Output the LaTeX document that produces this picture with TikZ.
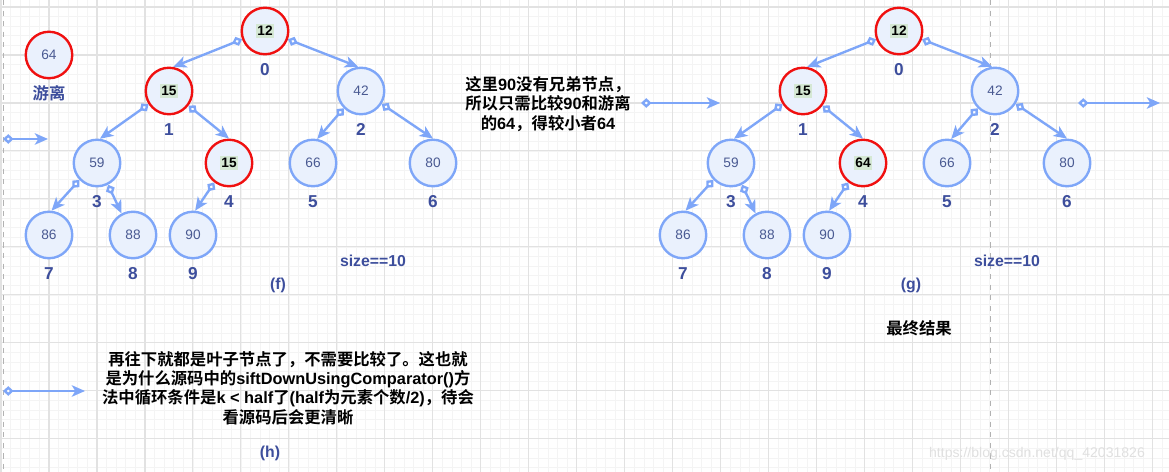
\documentclass[tikz,border=0pt]{standalone}
\usepackage{fontspec}
\setmainfont{Liberation Sans}
\newfontfamily\cjk{Noto Sans CJK SC}[BoldFont={Noto Sans CJK SC Bold}]
\usepackage{xcolor}
\usetikzlibrary{arrows.meta, positioning, backgrounds}

\definecolor{nodefill}{HTML}{EAF1FD}
\definecolor{nodeline}{HTML}{7EA6F8}
\definecolor{hotline}{HTML}{F01010}
\definecolor{numcol}{HTML}{4A5A92}
\definecolor{idxcol}{HTML}{3D4E9C}
\definecolor{hlgreen}{HTML}{D5E8D4}
\definecolor{gridmajor}{HTML}{E2E2E2}
\definecolor{gridminor}{HTML}{F4F4F4}

\newcommand{\hl}[1]{{\setlength{\fboxsep}{1pt}\colorbox{hlgreen}{\textbf{#1}}}}
\newcommand{\lat}[1]{{\normalfont\bfseries #1}}

\begin{document}
\begin{tikzpicture}[
    x=0.02cm, y=-0.02cm,
    heapnode/.style={circle, draw=nodeline, fill=nodefill, line width=1.35pt,
                     minimum size=0.93cm, inner sep=0pt, font=\fontsize{7.8}{9}\selectfont,
                     text=numcol},
    hotnode/.style={heapnode, draw=hotline, text=black},
    idx/.style={inner sep=0pt, font=\fontsize{9.8}{11}\selectfont\bfseries, text=idxcol},
    note/.style={align=center, inner sep=0pt, font=\cjk\bfseries\fontsize{9.3}{11}\selectfont},
    edge/.style={draw=nodeline, line width=1.35pt,
                 {Diamond[length=6pt, width=5.5pt, fill=white]}-{Stealth[length=7.5pt, width=6.5pt, inset=2pt]}},
    tag/.style={inner sep=0pt, font=\fontsize{9}{10}\selectfont\bfseries, text=idxcol}
]
\useasboundingbox (0,0) rectangle (1169,472);
\fill[white] (0,0) rectangle (1169,472);

% background grid
\begin{scope}[shift={(1,7)}]
\draw[gridminor, line width=0.5pt, step=0.192cm] (-1,-7) grid (1168,465);
\draw[gridmajor, line width=0.6pt, step=0.96cm] (-1,-7) grid (1168,465);
\end{scope}
\draw[gray!60, dashed, line width=0.5pt] (3,0) -- (3,472);
\draw[gray!60, dashed, line width=0.5pt] (990,0) -- (990,472);

% element taken out
\node[hotnode, text=numcol] (fl) at (49,55) {64};
\node[idx, below=3.5pt of fl, font=\cjk\bfseries\fontsize{9.3}{10}\selectfont] (flname) {游离};

% heap (f)
\node[hotnode] (f0) at (265,31) {\hl{12}};
\node[hotnode] (f1) at (169,91) {\hl{15}};
\node[heapnode] (f2) at (361,91) {42};
\node[heapnode] (f3) at (97,163) {59};
\node[hotnode] (f4) at (229,163) {\hl{15}};
\node[heapnode] (f5) at (313,163) {66};
\node[heapnode] (f6) at (433,163) {80};
\node[heapnode] (f7) at (49,235) {86};
\node[heapnode] (f8) at (133,235) {88};
\node[heapnode] (f9) at (193,235) {90};

\node[idx, below=4.5pt of f0] (fi0) {0};
\node[idx, below=4.5pt of f1] (fi1) {1};
\node[idx, below=4.5pt of f2] (fi2) {2};
\node[idx, below=4.5pt of f3] (fi3) {3};
\node[idx, below=4.5pt of f4] (fi4) {4};
\node[idx, below=4.5pt of f5] (fi5) {5};
\node[idx, below=4.5pt of f6] (fi6) {6};
\node[idx, below=4.5pt of f7] (fi7) {7};
\node[idx, below=4.5pt of f8] (fi8) {8};
\node[idx, below=4.5pt of f9] (fi9) {9};

\draw[edge] (f0.200) -- (f1.80);
\draw[edge] (f0.340) -- (f2.97);
\draw[edge] (f1.213) -- (f3.83);
\draw[edge] (f1.323) -- (f4.north);
\draw[edge] (f2.225) -- (f5.80);
\draw[edge] (f2.328) -- (f6.north);
\draw[edge] (f3.224) -- (f7.84);
\draw[edge] (f3.297) -- (f8.118);
\draw[edge] (f4.233) -- (f9.85);

\node[tag] (fsize) at (373,261) {size==10};
\node[tag] (fcap) at (278,285) {(f)};

% heap (g)
\begin{scope}[xshift=634*0.02cm]
\node[hotnode] (g0) at (265,31) {\hl{12}};
\node[hotnode] (g1) at (169,91) {\hl{15}};
\node[heapnode] (g2) at (361,91) {42};
\node[heapnode] (g3) at (97,163) {59};
\node[hotnode] (g4) at (229,163) {\hl{64}};
\node[heapnode] (g5) at (313,163) {66};
\node[heapnode] (g6) at (433,163) {80};
\node[heapnode] (g7) at (49,235) {86};
\node[heapnode] (g8) at (133,235) {88};
\node[heapnode] (g9) at (193,235) {90};

\node[idx, below=4.5pt of g0] (gi0) {0};
\node[idx, below=4.5pt of g1] (gi1) {1};
\node[idx, below=4.5pt of g2] (gi2) {2};
\node[idx, below=4.5pt of g3] (gi3) {3};
\node[idx, below=4.5pt of g4] (gi4) {4};
\node[idx, below=4.5pt of g5] (gi5) {5};
\node[idx, below=4.5pt of g6] (gi6) {6};
\node[idx, below=4.5pt of g7] (gi7) {7};
\node[idx, below=4.5pt of g8] (gi8) {8};
\node[idx, below=4.5pt of g9] (gi9) {9};

\node[tag] (gsize) at (373,261) {size==10};
\node[tag] (gcap) at (277,285) {(g)};
\end{scope}

\draw[edge] (g0.200) -- (g1.80);
\draw[edge] (g0.340) -- (g2.97);
\draw[edge] (g1.213) -- (g3.83);
\draw[edge] (g1.323) -- (g4.north);
\draw[edge] (g2.225) -- (g5.80);
\draw[edge] (g2.328) -- (g6.north);
\draw[edge] (g3.224) -- (g7.84);
\draw[edge] (g3.297) -- (g8.118);
\draw[edge] (g4.233) -- (g9.85);

% notes
\node[note] (why) at (548,104) {这里\lat{90}没有兄弟节点，\\所以只需比较\lat{90}和游离\\的\lat{64}，得较小者\lat{64}};
\node[note] (done) at (919,328) {最终结果};
\node[note] (leaf) at (288,388) {再往下就都是叶子节点了，不需要比较了。这也就\\是为什么源码中的\lat{siftDownUsingComparator()}方\\法中循环条件是\lat{k < half}了\lat{(half}为元素个数\lat{/2)}，待会\\看源码后会更清晰};
\node[tag] (hcap) at (270,453) {(h)};

% step arrows
\coordinate (s1a) at (3,139);
\coordinate (s1b) at (48,139);
\coordinate (s2a) at (641,103);
\coordinate (s2b) at (720,103);
\coordinate (s3a) at (1078,103);
\coordinate (s3b) at (1160,103);
\coordinate (s4a) at (3,391);
\coordinate (s4b) at (85,391);
\draw[edge] (s1a) -- (s1b);
\draw[edge] (s2a) -- (s2b);
\draw[edge] (s3a) -- (s3b);
\draw[edge] (s4a) -- (s4b);

\node[text=black!12, inner sep=0pt, font=\fontsize{8}{10}\selectfont] (mark) at (1037,454) {https://blog.csdn.net/qq\_42031826};
\end{tikzpicture}
\end{document}
